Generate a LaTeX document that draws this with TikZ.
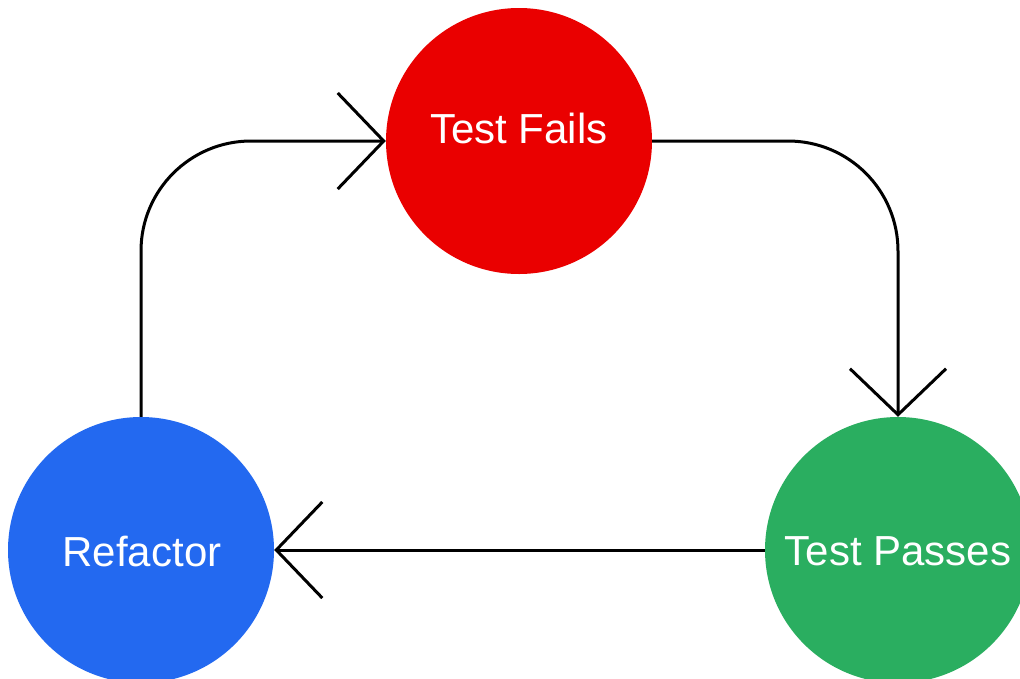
\documentclass[tikz,border=0pt]{standalone}
\usepackage{fontspec}
\setmainfont{Liberation Sans}
\usetikzlibrary{arrows.meta}

\definecolor{failred}{RGB}{234,0,0}
\definecolor{passgreen}{RGB}{42,174,96}
\definecolor{refblue}{RGB}{35,105,240}

\tikzset{
  stage/.style={circle, minimum size=266pt, inner sep=0pt, draw=none},
  stagetext/.style={anchor=base, text=white, font=\fontsize{42}{50}\selectfont, inner sep=0pt},
  flow/.style={line width=3pt, rounded corners=110pt,
    -{Straight Barb[length=46pt, width=96pt, line width=3pt]}}
}

\begin{document}
\begin{tikzpicture}[x=1pt, y=-1pt]
  \clip (0,0) rectangle (1020,678);
  \fill[white] (0,0) rectangle (1020,678);

  % the three stages of the cycle
  \node[stage, fill=failred]   (fails)  at (519,141) {};
  \node[stage, fill=passgreen] (passes) at (898,550) {};
  \node[stage, fill=refblue]   (refac)  at (141,550) {};

  \node[stagetext] (failsT)  at (519,143) {Test Fails};
  \node[stagetext] (passesT) at (898,565) {Test Passes};
  \node[stagetext] (refacT)  at (142,566) {Refactor};

  % transitions
  \draw[flow] (fails.east) -| (passes.north);
  \draw[flow] (passes.west) -- (refac.east);
  \draw[flow] (refac.north) |- (fails.west);
\end{tikzpicture}
\end{document}
